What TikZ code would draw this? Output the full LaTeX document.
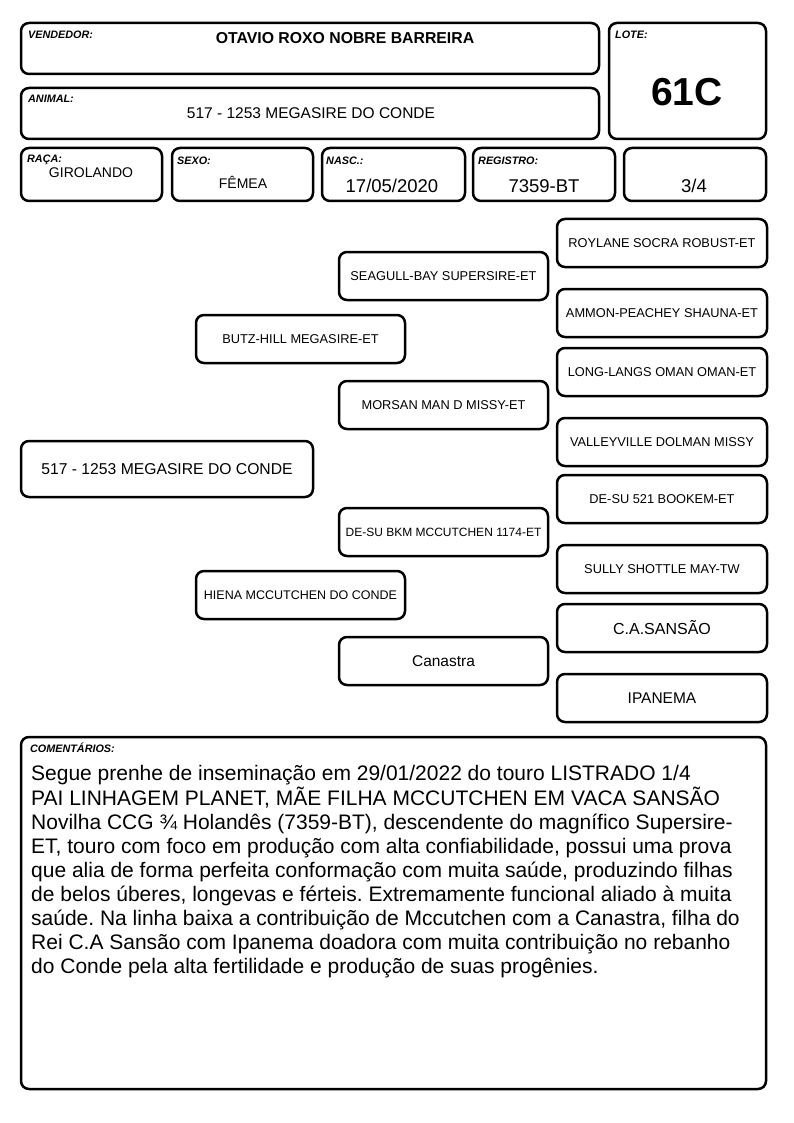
\documentclass[tikz,border=0pt]{standalone}
\usepackage{fontspec}
\setmainfont{Liberation Sans}
\frenchspacing
\begin{document}
\begin{tikzpicture}[x=1pt,y=-1pt,
  box/.style={draw=black, line width=2.5pt, rounded corners=8pt, inner sep=0pt},
  lbl/.style={anchor=base west, inner sep=0pt, font=\fontsize{10.8}{12}\selectfont\bfseries\itshape},
  val/.style={anchor=base, inner sep=0pt},
  ped/.style={box, minimum width=209pt, minimum height=48pt, font=\fontsize{12.8}{15}\selectfont},
  pedb/.style={box, minimum width=210pt, minimum height=48pt, font=\fontsize{12.8}{15}\selectfont}]
\useasboundingbox (0,0) rectangle (794,1123);
% header boxes
\node[box, minimum width=578pt, minimum height=51pt] (vend) at (310,48.5) {};
\node[box, minimum width=157pt, minimum height=116pt] (lote) at (687.5,81) {};
\node[box, minimum width=578pt, minimum height=51pt] (anim) at (310,113.5) {};
\node[box, minimum width=141pt, minimum height=53pt] (raca) at (91.5,174.5) {};
\node[box, minimum width=141pt, minimum height=53pt] (sexo) at (242.5,174.5) {};
\node[box, minimum width=143pt, minimum height=53pt] (nasc) at (393.5,174.5) {};
\node[box, minimum width=142pt, minimum height=53pt] (regi) at (544,174.5) {};
\node[box, minimum width=142pt, minimum height=53pt] (frac) at (695,174.5) {};
% header texts
\node[lbl] (lvend) at (28,39) {VENDEDOR:};
\node[val, font=\fontsize{15.8}{18}\selectfont\bfseries] (tvend) at (345,44) {OTAVIO ROXO NOBRE BARREIRA};
\node[lbl] (llote) at (615,39) {LOTE:};
\node[val, font=\fontsize{39}{44}\selectfont\bfseries] (tlote) at (687,106) {61C};
\node[lbl] (lanim) at (28,103) {ANIMAL:};
\node[val, font=\fontsize{15.5}{18}\selectfont] (tanim) at (311,119) {517 - 1253 MEGASIRE DO CONDE};
\node[lbl] (lraca) at (27,163) {RAÇA:};
\node[val, font=\fontsize{14}{17}\selectfont] (traca) at (91,178) {GIROLANDO};
\node[lbl] (lsexo) at (177,165) {SEXO:};
\node[val, font=\fontsize{14}{17}\selectfont] (tsexo) at (243,189) {FÊMEA};
\node[lbl] (lnasc) at (326,165) {NASC.:};
\node[val, font=\fontsize{18.5}{22}\selectfont] (tnasc) at (392,193) {17/05/2020};
\node[lbl] (lregi) at (478,165) {REGISTRO:};
\node[val, font=\fontsize{18.5}{22}\selectfont] (tregi) at (544,193) {7359-BT};
\node[val, font=\fontsize{18.5}{22}\selectfont] (tfrac) at (694,193) {3/4};
% pedigree
\node[box, minimum width=292pt, minimum height=56pt, font=\fontsize{15.7}{18}\selectfont] (p0) at (167,469) {517 - 1253 MEGASIRE DO CONDE};
\node[ped] (p1) at (300.5,339) {BUTZ-HILL MEGASIRE-ET};
\node[ped, font=\fontsize{12.5}{15}\selectfont] (p2) at (300.5,595) {HIENA MCCUTCHEN DO CONDE};
\node[ped] (p11) at (443.5,276) {SEAGULL-BAY SUPERSIRE-ET};
\node[ped] (p12) at (443.5,405) {MORSAN MAN D MISSY-ET};
\node[ped, font=\fontsize{12}{15}\selectfont] (p21) at (443.5,532) {DE-SU BKM MCCUTCHEN 1174-ET};
\node[ped, font=\fontsize{15.5}{18}\selectfont] (p22) at (443.5,661) {Canastra};
\node[pedb] (p111) at (662,243) {ROYLANE SOCRA ROBUST-ET};
\node[pedb] (p112) at (662,313) {AMMON-PEACHEY SHAUNA-ET};
\node[pedb] (p121) at (662,372) {LONG-LANGS OMAN OMAN-ET};
\node[pedb] (p122) at (662,442) {VALLEYVILLE DOLMAN MISSY};
\node[pedb] (p211) at (662,499) {DE-SU 521 BOOKEM-ET};
\node[pedb] (p212) at (662,569) {SULLY SHOTTLE MAY-TW};
\node[pedb, font=\fontsize{16}{19}\selectfont] (p221) at (662,628) {C.A.SANSÃO};
\node[pedb, font=\fontsize{15.5}{18}\selectfont] (p222) at (662,698) {IPANEMA};
% comments
\node[box, minimum width=745pt, minimum height=352pt] (com) at (393.5,913) {};
\node[lbl] (lcom) at (30,752) {COMENTÁRIOS:};
\node[anchor=north west, inner sep=0pt, align=left, font=\fontsize{21}{24.1}\selectfont] (tcom) at (31,765.5) {Segue prenhe de inseminação em 29/01/2022 do touro LISTRADO 1/4\\
PAI LINHAGEM PLANET, MÃE FILHA MCCUTCHEN EM VACA SANSÃO\\
Novilha CCG ¾ Holandês (7359-BT), descendente do magnífico Supersire-\\
ET, touro com foco em produção com alta confiabilidade, possui uma prova\\
que alia de forma perfeita conformação com muita saúde, produzindo filhas\\
de belos úberes, longevas e férteis. Extremamente funcional aliado à muita\\
saúde. Na linha baixa a contribuição de Mccutchen com a Canastra, filha do\\
Rei C.A Sansão com Ipanema doadora com muita contribuição no rebanho\\
do Conde pela alta fertilidade e produção de suas progênies.};
\end{tikzpicture}
\end{document}
